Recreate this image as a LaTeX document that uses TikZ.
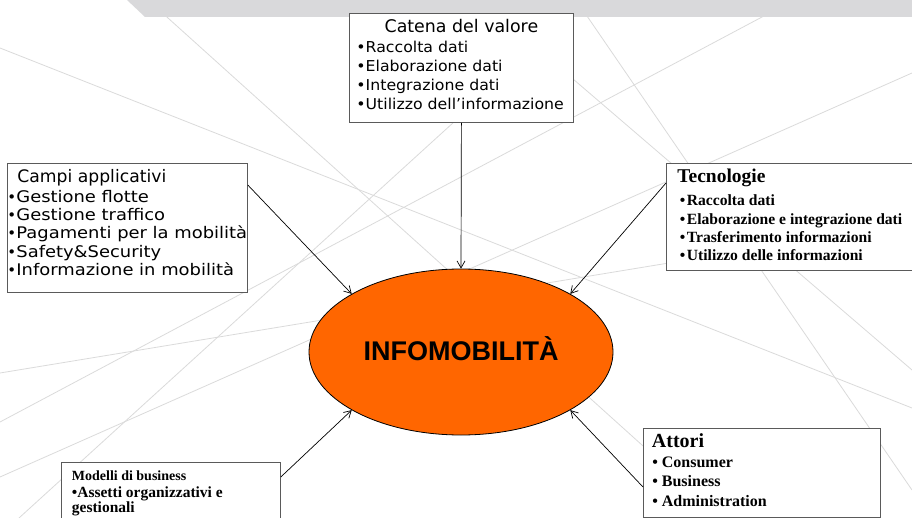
\documentclass[tikz,border=0pt]{standalone}
\usepackage{fontspec}
\newfontfamily\vfont{DejaVu Sans}
\newfontfamily\vfontA[FakeStretch=1.05]{DejaVu Sans}
\newfontfamily\vfontB[FakeStretch=1.12]{DejaVu Sans}
\newfontfamily\tfont{Liberation Serif}
\newfontfamily\afont{Liberation Sans}
\usetikzlibrary{arrows.meta,shapes.geometric,calc}
\definecolor{bandgray}{RGB}{217,217,219}
\definecolor{linegray}{RGB}{218,218,218}
\definecolor{boxgray}{RGB}{90,90,90}
\definecolor{infoorange}{RGB}{255,102,0}
\newcommand\Ln[3]{{\fontsize{#1}{#2}\selectfont #3\par}}
\newcommand\boxbody[3]{\begin{minipage}[c][#2][t]{#1}\lineskiplimit=-1000pt\relax\parindent=0pt\parskip=0pt\relax #3\end{minipage}}
\newcommand\sbul{\makebox[9pt][l]{\vfont\fontsize{15}{15}\selectfont •}}
\tikzset{
  box/.style={draw=boxgray, fill=white, line width=0.8pt, inner sep=0pt, anchor=north west},
  bgline/.style={draw=linegray, line width=0.8pt},
  conn/.style={draw=black, line width=0.7pt, -{Straight Barb[length=7pt,width=8pt]}},
  infoell/.style={ellipse, draw=black, line width=0.8pt, fill=infoorange, minimum width=304pt, minimum height=166pt, inner sep=0pt, text height=16pt, text depth=0pt}
}
\begin{document}
\begin{tikzpicture}[x=1pt,y=-1pt]
\useasboundingbox (0,0) rectangle (912,518);
\clip (0,0) rectangle (912,518);
% background lines
\draw[bgline] (0,48) -- (912,408);
\draw[bgline] (148,0) -- (723,518);
\draw[bgline] (576,0) -- (912,490);
\draw[bgline] (481,0) -- (912,370);
\draw[bgline] (0,422) -- (794,0);
\draw[bgline] (19,518) -- (588,0);
\draw[bgline] (0,373) -- (912,223);
\draw[bgline] (0,477) -- (912,73);
% top band
\fill[bandgray] (127,0) -- (145,17) -- (912,17) -- (912,0) -- cycle;
% boxes
\node[box] (catena) at (349,13) {\boxbody{224pt}{109pt}{\vfont
  \Ln{17.4}{0pt}{\rule{0pt}{19pt}\makebox[\linewidth][c]{Catena del valore}}
  \vfontA
  \Ln{15}{20pt}{\hspace*{7pt}•Raccolta dati}
  \Ln{15}{19pt}{\hspace*{7pt}•Elaborazione dati}
  \Ln{15}{19pt}{\hspace*{7pt}•Integrazione dati}
  \Ln{15}{19pt}{\hspace*{7pt}•Utilizzo dell’informazione}}};
\node[box] (campi) at (7,163) {\boxbody{240pt}{129pt}{\vfont
  \Ln{17.2}{0pt}{\rule{0pt}{19pt}\hspace*{10pt}Campi applicativi}
  \vfontB
  \Ln{16}{20pt}{\sbul Gestione flotte}
  \Ln{16}{18pt}{\sbul Gestione traffico}
  \Ln{16}{18pt}{\sbul Pagamenti per la mobilità}
  \Ln{16}{19pt}{\sbul Safety\&Security}
  \Ln{16}{18pt}{\sbul Informazione in mobilità}}};
\node[box] (tecno) at (666,163) {\boxbody{254pt}{107pt}{\tfont\bfseries
  \Ln{19.5}{0pt}{\rule{0pt}{19pt}\hspace*{11pt}Tecnologie}
  \Ln{15.6}{23pt}{\hspace*{13.5pt}\makebox[7pt][l]{•}Raccolta dati}
  \Ln{15.6}{19pt}{\hspace*{13.5pt}\makebox[7pt][l]{•}Elaborazione e integrazione dati}
  \Ln{15.6}{18pt}{\hspace*{13.5pt}\makebox[7pt][l]{•}Trasferimento informazioni}
  \Ln{15.6}{18pt}{\hspace*{13.5pt}\makebox[7pt][l]{•}Utilizzo delle informazioni}}};
\node[box] (attori) at (643,428) {\boxbody{237pt}{89pt}{\tfont\bfseries
  \Ln{20}{0pt}{\rule{0pt}{19pt}\hspace*{8.5pt}Attori}
  \Ln{16}{20pt}{\hspace*{9pt}\makebox[9.5pt][l]{•}Consumer}
  \Ln{16}{19pt}{\hspace*{9pt}\makebox[9.5pt][l]{•}Business}
  \Ln{16}{20pt}{\hspace*{9pt}\makebox[9.5pt][l]{•}Administration}}};
\node[box] (modelli) at (61,462) {\boxbody{219pt}{80pt}{\tfont\bfseries
  \Ln{14}{0pt}{\rule{0pt}{18pt}\hspace*{10.5pt}Modelli di business}
  \Ln{15.5}{17pt}{\hspace*{10.5pt}•Assetti organizzativi e}
  \Ln{15.5}{15pt}{\hspace*{10.5pt}gestionali}}};
% central ellipse
\node[infoell] (ell) at (461,352) {\afont\bfseries\fontsize{27}{27}\selectfont INFOMOBILITÀ};
% connectors
\draw[conn] (catena.south) -- (ell.north);
\draw[conn] ($(campi.north east)+(0,22)$) -- (ell.152);
\draw[conn] ($(tecno.north west)+(0,20)$) -- (ell.28);
\draw[conn] ($(modelli.north east)+(0,15)$) -- (ell.208);
\draw[conn] ($(attori.north west)+(0,59)$) -- (ell.-28);
\end{tikzpicture}
\end{document}
